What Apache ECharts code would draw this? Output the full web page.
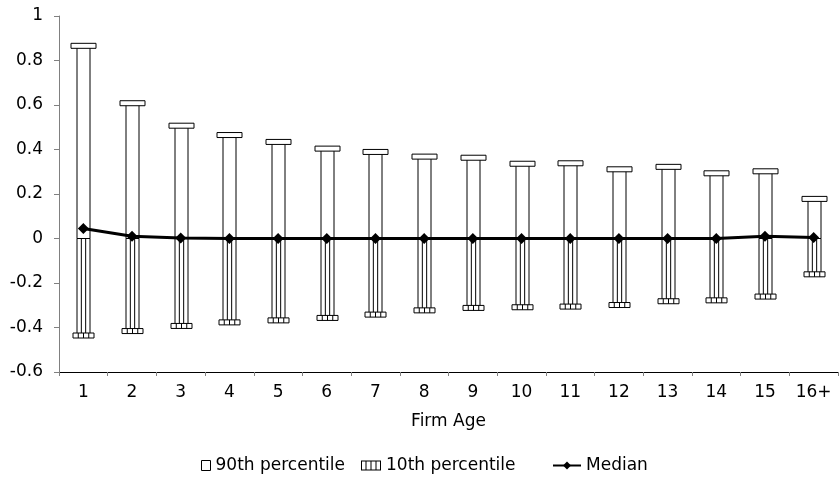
<!DOCTYPE html>
<html>
<head>
<meta charset="utf-8">
<script src="https://cdn.jsdelivr.net/npm/echarts@6/dist/echarts.min.js"></script>
<style>
  html, body { margin: 0; padding: 0; background: #fff; }
  #chart { width: 839px; height: 478px; }
</style>
</head>
<body>
<div id="chart"></div>
<script>
// Firm age categories
const categories = ['1', '2', '3', '4', '5', '6', '7', '8', '9', '10', '11', '12', '13', '14', '15', '16+'];

// Distribution statistics per firm age
const p90 = [0.866, 0.608, 0.507, 0.465, 0.434, 0.404, 0.389, 0.368, 0.363, 0.336, 0.338, 0.311, 0.322, 0.293, 0.302, 0.178];
const p10 = [-0.436, -0.416, -0.393, -0.377, -0.368, -0.357, -0.342, -0.323, -0.312, -0.309, -0.306, -0.299, -0.282, -0.278, -0.261, -0.161];
const median = [0.045, 0.01, 0.002, 0, 0, 0, 0, 0, 0, 0, 0, 0, 0, 0, 0.01, 0.004];

const FONT = 'DejaVu Sans, Verdana, sans-serif';
const FS = 17;
const COL_W = 13;

// Open column from zero to the 90th percentile, topped with a flat cap
function renderUpper(params, api) {
  const i = api.value(0);
  const top = api.coord([i, api.value(1)]);
  const base = api.coord([i, 0]);
  const cx = Math.round(top[0]) + 0.5;
  const capW = 25, capH = 5;
  const stroke = { fill: '#fff', stroke: '#000', lineWidth: 1 };
  return {
    type: 'group',
    children: [
      { type: 'rect', shape: { x: cx - COL_W / 2, y: top[1], width: COL_W, height: base[1] - top[1] }, style: stroke },
      { type: 'rect', shape: { x: cx - capW / 2, y: top[1] - capH / 2, width: capW, height: capH }, style: stroke }
    ]
  };
}

// Striped column from zero down to the 10th percentile, with a striped cap
function renderLower(params, api) {
  const i = api.value(0);
  const bot = api.coord([i, api.value(1)]);
  const base = api.coord([i, 0]);
  const cx = Math.round(bot[0]) + 0.5;
  const capW = 21, capH = 5;
  const style = { fill: '#fff', stroke: '#000', lineWidth: 1 };
  const children = [
    { type: 'rect', shape: { x: cx - COL_W / 2, y: base[1], width: COL_W, height: bot[1] - base[1] }, style: style }
  ];
  for (let k = 1; k < 3; k++) {
    const lx = cx - COL_W / 2 + k * COL_W / 3;
    children.push({ type: 'line', shape: { x1: lx, y1: base[1], x2: lx, y2: bot[1] }, style: { stroke: '#000', lineWidth: 1 } });
  }
  children.push({ type: 'rect', shape: { x: cx - capW / 2, y: bot[1] - capH / 2, width: capW, height: capH }, style: style });
  for (let k = 1; k < 4; k++) {
    const lx = cx - capW / 2 + k * capW / 4;
    children.push({ type: 'line', shape: { x1: lx, y1: bot[1] - capH / 2, x2: lx, y2: bot[1] + capH / 2 }, style: { stroke: '#000', lineWidth: 1 } });
  }
  return { type: 'group', children: children };
}

const hatchIcon = 'path://M0 0H20V1H0Z M0 9H20V10H0Z M0 0H1V10H0Z M19 0H20V10H19Z M4.5 0H5.5V10H4.5Z M9.5 0H10.5V10H9.5Z M14.5 0H15.5V10H14.5Z';

const legendText = { fontSize: FS, color: '#000', fontFamily: FONT };

const chart = echarts.init(document.getElementById('chart'), null, { renderer: 'canvas' });
chart.setOption({
  animation: false,
  backgroundColor: '#fff',
  grid: { left: 59, right: 1, top: 16, bottom: 106, containLabel: false },
  xAxis: {
    type: 'category',
    data: categories,
    name: 'Firm Age',
    nameLocation: 'middle',
    nameGap: 41,
    nameTextStyle: { fontSize: FS, color: '#000', fontFamily: FONT },
    axisLine: { onZero: false, lineStyle: { color: '#000', width: 1 } },
    axisTick: { show: true, length: 4, lineStyle: { color: '#808080' } },
    axisLabel: { fontSize: FS, color: '#000', fontFamily: FONT, margin: 12 },
    splitLine: { show: false }
  },
  yAxis: {
    type: 'value',
    min: -0.6,
    max: 1,
    interval: 0.2,
    axisLine: { show: true, lineStyle: { color: '#808080', width: 1 } },
    axisTick: { show: true, length: 5, lineStyle: { color: '#808080' } },
    axisLabel: {
      fontSize: FS, color: '#000', fontFamily: FONT, margin: 16,
      formatter: function (v) { return String(Math.round(v * 10) / 10); }
    },
    splitLine: { show: false }
  },
  legend: [
    {
      left: 196, top: 452, itemWidth: 9, itemHeight: 10, textStyle: legendText, itemGap: 4,
      data: [{ name: '90th percentile', icon: 'rect', itemStyle: { color: '#fff', borderColor: '#000', borderWidth: 1 } }]
    },
    {
      left: 356, top: 452, itemWidth: 20, itemHeight: 10, textStyle: legendText,
      data: [{ name: '10th percentile', icon: hatchIcon, itemStyle: { color: '#000', borderWidth: 0 } }]
    },
    {
      left: 547, top: 452, itemWidth: 28, itemHeight: 10, textStyle: legendText,
      data: [{ name: 'Median' }]
    }
  ],
  series: [
    {
      name: '90th percentile',
      type: 'custom',
      renderItem: renderUpper,
      encode: { x: 0, y: 1 },
      itemStyle: { color: '#fff', borderColor: '#000' },
      data: p90.map((v, i) => [i, v]),
      z: 2
    },
    {
      name: '10th percentile',
      type: 'custom',
      renderItem: renderLower,
      encode: { x: 0, y: 1 },
      itemStyle: { color: '#000' },
      data: p10.map((v, i) => [i, v]),
      z: 2
    },
    {
      name: 'Median',
      type: 'line',
      data: median,
      symbol: 'diamond',
      symbolSize: 11,
      lineStyle: { color: '#000', width: 3 },
      itemStyle: { color: '#000' },
      z: 5
    }
  ]
});
</script>
</body>
</html>
